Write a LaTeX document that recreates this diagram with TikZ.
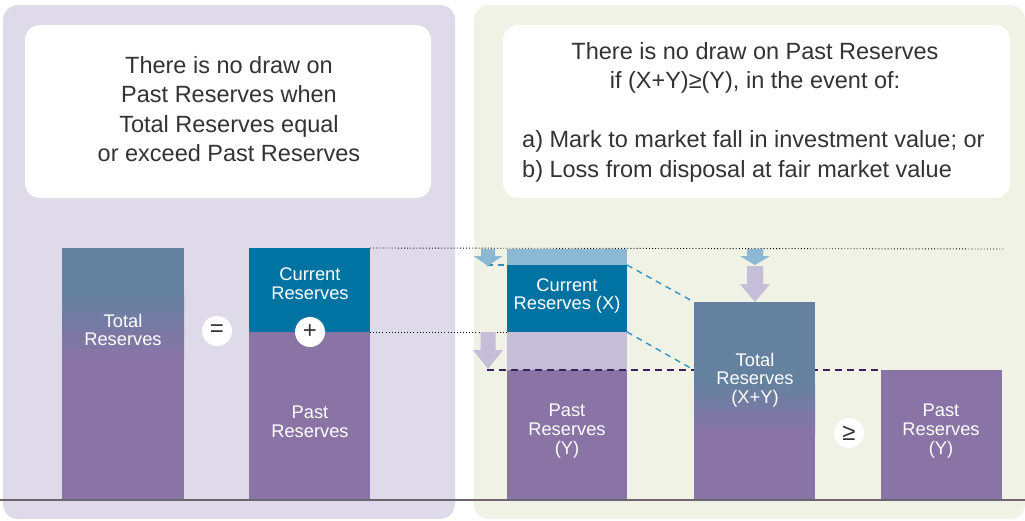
\documentclass[tikz,border=0pt]{standalone}
\usepackage{fontspec}
\setmainfont{Liberation Sans}
\definecolor{leftbg}{HTML}{DEDAE9}
\definecolor{rightbg}{HTML}{EFF2E5}
\definecolor{tealC}{HTML}{0073A3}
\definecolor{lblue}{HTML}{8BB8D3}
\definecolor{lpurple}{HTML}{C6BDD8}
\definecolor{purpleC}{HTML}{8A74A6}
\definecolor{steel}{HTML}{6581A0}
\definecolor{dashteal}{HTML}{2A8FC0}
\definecolor{dashpurple}{HTML}{3B1E5E}
\definecolor{basegray}{HTML}{6B6670}
\definecolor{notegray}{HTML}{333333}
\newcommand\dnarrow[7]{% color, cx, y0, yhead, ytip, shaft width, head width
  \fill[#1] ({#2-#6/2},#3) -- ({#2+#6/2},#3) -- ({#2+#6/2},#4) -- ({#2+#7/2},#4)
    -- (#2,#5) -- ({#2-#7/2},#4) -- ({#2-#6/2},#4) -- cycle;}
\begin{document}
\begin{tikzpicture}[x=1pt,y=-1pt,
  bar/.style={inner sep=0pt, outer sep=0pt, anchor=north west, draw=none},
  lbl/.style={text=white, font=\fontsize{18.3}{18.7}\selectfont, align=center, inner sep=0pt},
  op/.style={circle, fill=white, minimum size=30pt, inner sep=0pt, text=notegray, font=\fontsize{24}{24}\selectfont},
  note/.style={font=\fontsize{23.5}{29.5}\selectfont, text=notegray, inner sep=0pt},
  dotline/.style={black, line width=0.9pt, dash pattern=on 0.9pt off 2.2pt},
  tealdash/.style={dashteal, line width=1.3pt, dash pattern=on 6pt off 5pt},
  purpdash/.style={dashpurple, line width=1.3pt, dash pattern=on 7pt off 5pt},
]
\useasboundingbox (0,0) rectangle (1025,520);
% panels
\fill[leftbg, rounded corners=15pt] (3,5) rectangle (455,519);
\fill[rightbg, rounded corners=15pt] (474,5) rectangle (1025,519);
\fill[white, rounded corners=15pt] (25,25) rectangle (431,198);
\fill[white, rounded corners=15pt] (503,25) rectangle (1010,198);
% notes
\node[note, align=center] (noteL) at (229,109) {There is no draw on\\Past Reserves when\\Total Reserves equal\\or exceed Past Reserves};
\node[note, align=center] (noteR) at (755,68) {There is no draw on Past Reserves\\if (X+Y)≥(Y), in the event of:};
\node[note, align=left, anchor=west] (noteR2) at (522,156.5) {a) Mark to market fall in investment value; or\\b) Loss from disposal at fair market value};
% coordinates
\coordinate (dotend) at (1003,249);
\coordinate (tipA) at (487,265);
\coordinate (tipB) at (487,370);
% bars
\node[bar, minimum width=121pt, minimum height=84pt, fill=tealC] (curL) at (249,248) {};
\node[bar, minimum width=121pt, minimum height=168pt, fill=purpleC] (pastL) at (249,332) {};
\node[bar, minimum width=120pt, minimum height=16pt, fill=lblue] (lb1) at (507,249) {};
\node[bar, minimum width=120pt, minimum height=67pt, fill=tealC] (cur1) at (507,265) {};
\node[bar, minimum width=120pt, minimum height=38pt, fill=lpurple] (lp1) at (507,332) {};
\node[bar, minimum width=120pt, minimum height=130pt, fill=purpleC] (past1) at (507,370) {};
\node[bar, minimum width=121pt, minimum height=130pt, fill=purpleC] (past2) at (881,370) {};
\draw[dotline] (curL.north east) -- (dotend);
\draw[dotline] (curL.south east) -- (lp1.north west);
% dashed lines
\draw[purpdash] (tipB) -- (past2.north west);
\draw[tealdash] (tipA) -- (cur1.north west);
% total left bar
\node[bar, minimum width=122pt, minimum height=252pt, fill=purpleC] (totL) at (62,248) {};
\fill[steel] (totL.north west) rectangle (184,296);
\shade[top color=steel, bottom color=purpleC] (62,295.5) rectangle (184,358);
% total right bar
\node[bar, minimum width=121pt, minimum height=198pt, fill=purpleC] (tot) at (694,302) {};
\fill[steel] (tot.north west) rectangle (815,384);
\shade[top color=steel, bottom color=purpleC] (694,383.5) rectangle (815,434);
\coordinate (totmid) at (694,370);
\draw[tealdash] (cur1.north east) -- (tot.north west);
\draw[tealdash] (cur1.south east) -- (totmid);
% arrows
\dnarrow{lblue}{488}{249}{256}{266}{14}{29}
\dnarrow{lpurple}{488}{332}{350}{369}{15}{30}
\dnarrow{lblue}{755}{249}{256}{265}{16}{30}
\dnarrow{lpurple}{755}{266}{284}{302}{16}{30}
% labels
\node[lbl] (tTotL) at (123,330) {Total\\Reserves};
\node[lbl] (tCurL) at (310,284) {Current\\Reserves};
\node[lbl] (tPastL) at (310,422) {Past\\Reserves};
\node[lbl] (tCur1) at (567,296) {Current\\Reserves (X)};
\node[lbl] (tPast1) at (567,431) {Past\\Reserves\\(Y)};
\node[lbl] (tTot) at (755,380) {Total\\Reserves\\(X+Y)};
\node[lbl] (tPast2) at (941,431) {Past\\Reserves\\(Y)};
% operators
\node[op] (eq) at (217,331) {=};
\node[op] (plus) at (310,332) {+};
\node[op] (geq) at (849,433) {≥};
% baseline
\coordinate (b0) at (0,500);
\coordinate (b1) at (1025,500);
\draw[basegray, line width=1.5pt] (b0) -- (b1);
\end{tikzpicture}
\end{document}
